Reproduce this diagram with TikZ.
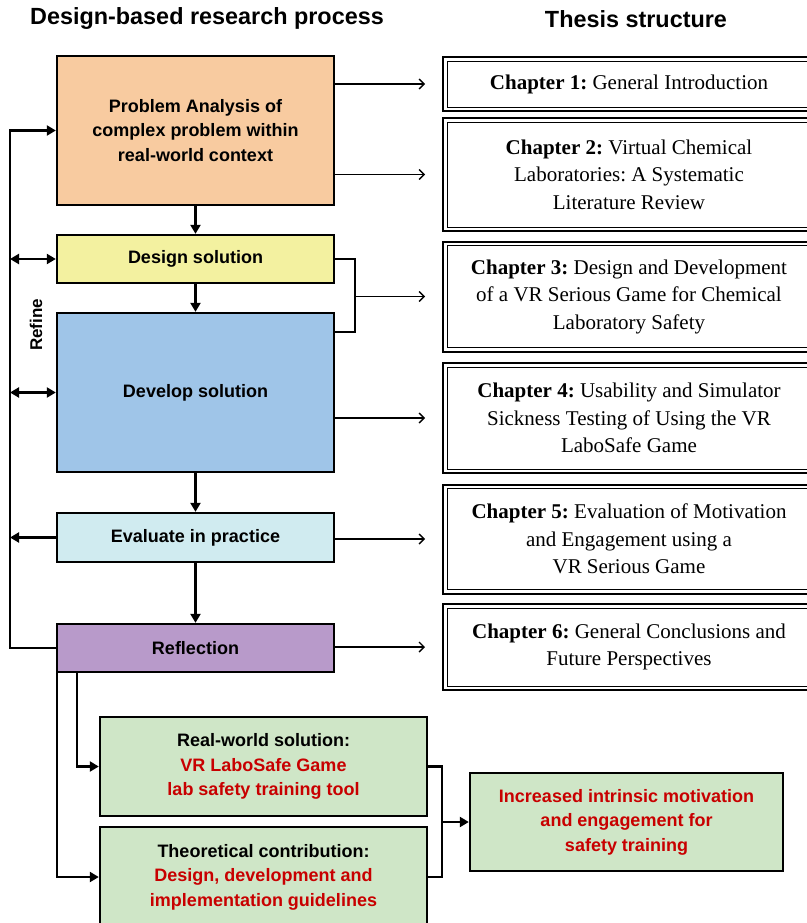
\documentclass[tikz,border=0pt]{standalone}
\usepackage{fontspec}
\setmainfont{Liberation Serif}
\setsansfont{Liberation Sans}
\usetikzlibrary{arrows.meta}

\definecolor{fillorange}{HTML}{F8CBA0}
\definecolor{fillyellow}{HTML}{F3F1A0}
\definecolor{fillblue}{HTML}{9FC5E8}
\definecolor{fillcyan}{HTML}{D0EBF0}
\definecolor{fillpurple}{HTML}{B89ACA}
\definecolor{fillgreen}{HTML}{CFE6C7}
\definecolor{textred}{HTML}{C80000}

\frenchspacing
\begin{document}
\begin{tikzpicture}[x=1pt,y=-1pt,
  proc/.style={draw, line width=2.4pt, minimum width=277pt, align=center,
    inner sep=0pt, font=\sffamily\bfseries\fontsize{18}{24.5}\selectfont},
  outcome/.style={proc, fill=fillgreen, minimum width=327pt, minimum height=99pt},
  chap/.style={draw, line width=2pt, minimum width=372pt, align=center,
    inner sep=0pt, font=\fontsize{21}{27.5}\selectfont},
  header/.style={font=\sffamily\bfseries\fontsize{23.4}{28}\selectfont},
  flow/.style={line width=2.2pt, -{Triangle[length=9pt,width=10pt]}},
  dflow/.style={line width=2.2pt, {Triangle[length=9pt,width=10pt]}-{Triangle[length=9pt,width=10pt]}},
  link/.style={line width=2.2pt},
  thinlink/.style={line width=1.4pt},
  outarrow/.style={line width=1.4pt, -{Straight Barb[length=5pt,width=10pt]}}
]
\useasboundingbox (0,0) rectangle (806,923);

% column headers
\node[header] (h1) at (207,19) {Design-based research process};
\node[header] (h2) at (636,19) {Thesis structure};

% design-based research cycle
\node[proc, fill=fillorange, minimum height=149pt] (pa) at (195.5,130.5)
  {Problem Analysis of\\complex problem within\\real-world context};
\node[proc, fill=fillyellow, minimum height=48pt] (ds) at (195.5,259) {Design solution};
\node[proc, fill=fillblue, minimum height=159pt] (dv) at (195.5,392.5) {Develop solution};
\node[proc, fill=fillcyan, minimum height=49pt] (ev) at (195.5,537.5) {Evaluate in practice};
\node[proc, fill=fillpurple, minimum height=48pt] (rf) at (195.5,648) {Reflection};

\node[font=\sffamily\bfseries\fontsize{17}{20}\selectfont, rotate=90] (refine) at (36,325) {Refine};

% outcomes
\node[outcome] (rw) at (263.5,766.5)
  {Real-world solution:\\\textcolor{textred}{VR LaboSafe Game}\\\textcolor{textred}{lab safety training tool}};
\node[outcome, minimum height=100pt] (tc) at (263.5,877)
  {Theoretical contribution:\\\textcolor{textred}{Design, development and}\\\textcolor{textred}{implementation guidelines}};
\node[proc, fill=fillgreen, minimum width=313pt, minimum height=98pt, text=textred] (inc) at (626.5,822)
  {Increased intrinsic motivation\\and engagement for\\safety training};

% thesis chapters
\node[chap, minimum height=54pt]  (c1) at (629,84)    {\textbf{Chapter 1:} General Introduction};
\node[chap, minimum height=113pt] (c2) at (629,174.5)  {\textbf{Chapter 2:} Virtual Chemical\\Laboratories: A Systematic\\Literature Review};
\node[chap, minimum height=110pt] (c3) at (629,296.5)  {\textbf{Chapter 3:} Design and Development\\of a VR Serious Game for Chemical\\Laboratory Safety};
\node[chap, minimum height=110pt] (c4) at (629,418)    {\textbf{Chapter 4:} Usability and Simulator\\Sickness Testing of Using the VR\\LaboSafe Game};
\node[chap, minimum height=109pt] (c5) at (629,539)    {\textbf{Chapter 5:} Evaluation of Motivation\\and Engagement using a\\VR Serious Game};
\node[chap, minimum height=86pt]  (c6) at (629,647)    {\textbf{Chapter 6:} General Conclusions and\\Future Perspectives};
\foreach \c in {c1,c2,c3,c4,c5,c6}
  \draw[line width=0.9pt] ([shift={(5,5)}]\c.north west) rectangle ([shift={(-5,-5)}]\c.south east);

% main sequence
\draw[flow] (pa) -- (ds);
\draw[flow] (ds) -- (dv);
\draw[flow] (dv) -- (ev);
\draw[flow] (ev) -- (rf);

% refine loop
\coordinate (loop) at (10,0);
\draw[flow] (rf.west) -- (rf.west -| loop) |- (pa.west);
\draw[dflow] (ds.west -| loop) -- (ds.west);
\draw[dflow] (dv.west -| loop) -- (dv.west);
\draw[flow] (ev.west) -- (ev.west -| loop);

% links to the chapters
\coordinate (brk) at (355,0);
\coordinate (dvtap) at ([yshift=-20pt]dv.north east);
\draw[outarrow] (pa.east |- c1.west) -- ([xshift=-17pt]c1.west);
\draw[outarrow] (pa.east |- c2.west) -- ([xshift=-17pt]c2.west);
\draw[thinlink] (ds.east) -- (ds.east -| brk) -- (brk |- dvtap) -- (dvtap);
\draw[outarrow] (brk |- c3.west) -- ([xshift=-17pt]c3.west);
\draw[outarrow] (dv.east |- c4.west) -- ([xshift=-17pt]c4.west);
\draw[outarrow] (ev.east |- c5.west) -- ([xshift=-17pt]c5.west);
\draw[outarrow] (rf.east |- c6.west) -- ([xshift=-17pt]c6.west);

% outcomes of the reflection
\coordinate (drop) at (77,0);
\draw[flow] (rf.south -| drop) |- (rw.west);
\draw[flow] ([xshift=1.5pt]rf.south west) |- (tc.west);
\coordinate (join) at (442,0);
\draw[link] (rw.east) -- (rw.east -| join) -- (tc.east -| join) -- (tc.east);
\draw[flow] (inc.west -| join) -- (inc.west);
\end{tikzpicture}
\end{document}
